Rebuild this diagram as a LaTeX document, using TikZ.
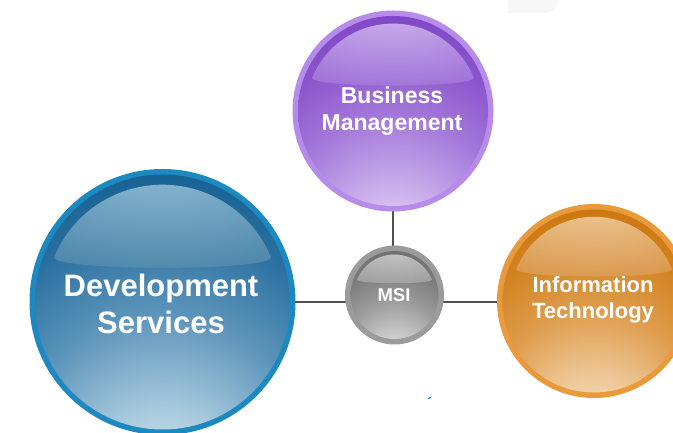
\documentclass[tikz,border=0pt]{standalone}
\usepackage{fontspec}
\setmainfont{Liberation Sans}
% blue
\definecolor{bRing}{HTML}{1C89C1}
\definecolor{bS0}{HTML}{F6FAFC}
\definecolor{bS1}{HTML}{DDECF4}
\definecolor{bS2}{HTML}{A6C9DC}
\definecolor{bS3}{HTML}{5C94BA}
\definecolor{bS4}{HTML}{2A70A0}
\definecolor{bS5}{HTML}{0B5A8B}
\definecolor{bCapTop}{HTML}{BCD8E5}
\definecolor{bCapMid}{HTML}{7FAFCA}
\definecolor{bCapBot}{HTML}{2F6F98}
% purple
\definecolor{pRing}{HTML}{B78BE9}
\definecolor{pS0}{HTML}{FDFBFE}
\definecolor{pS1}{HTML}{EBE0F8}
\definecolor{pS2}{HTML}{CBB0EC}
\definecolor{pS3}{HTML}{A57ADB}
\definecolor{pS4}{HTML}{8A55CC}
\definecolor{pS5}{HTML}{7A40C4}
\definecolor{pCapTop}{HTML}{F8F3FD}
\definecolor{pCapMid}{HTML}{C4A3E9}
\definecolor{pCapBot}{HTML}{8A55CC}
% orange
\definecolor{oRing}{HTML}{E99A3B}
\definecolor{oS0}{HTML}{FFFBF6}
\definecolor{oS1}{HTML}{F8E6D0}
\definecolor{oS2}{HTML}{EEC898}
\definecolor{oS3}{HTML}{DE9C4C}
\definecolor{oS4}{HTML}{D2821F}
\definecolor{oS5}{HTML}{C97209}
\definecolor{oCapTop}{HTML}{FCF0E2}
\definecolor{oCapMid}{HTML}{EABD86}
\definecolor{oCapBot}{HTML}{D0822A}
% gray
\definecolor{gRing}{HTML}{9B9B9B}
\definecolor{gS0}{HTML}{FAFAFA}
\definecolor{gS1}{HTML}{E6E6E6}
\definecolor{gS2}{HTML}{C6C6C6}
\definecolor{gS3}{HTML}{9A9A9A}
\definecolor{gS4}{HTML}{7C7C7C}
\definecolor{gS5}{HTML}{686868}
\definecolor{gCapTop}{HTML}{F0F0F0}
\definecolor{gCapMid}{HTML}{BEBEBE}
\definecolor{gCapBot}{HTML}{8C8C8C}
\definecolor{lineGray}{HTML}{505050}
\newcommand\mkballshade[1]{%
 \pgfdeclareradialshading{body#1}{\pgfpoint{0bp}{-42bp}}{color(0bp)=(#1S0); color(5bp)=(#1S1); color(15bp)=(#1S2); color(28bp)=(#1S3); color(40bp)=(#1S4); color(52bp)=(#1S5); color(100bp)=(#1S5)}%
 \pgfdeclareradialshading{cap#1}{\pgfpoint{0bp}{45bp}}{color(0bp)=(#1CapTop); color(22bp)=(#1CapMid); color(70bp)=(#1CapBot); color(120bp)=(#1CapBot)}%
}
\mkballshade{b}
\mkballshade{p}
\mkballshade{o}
\mkballshade{g}
\newcommand\glassball[3]{%
 \pgfmathsetmacro\ri{#2-5.5}%
 \begin{scope}[shift={(#1.center)}]
 \fill[#3Ring] (0,0) circle[radius=#2];
 \shade[shading=body#3] (0,0) circle[radius=\ri];
 \shade[shading=cap#3] (22.4:{0.92*\ri}) arc[start angle=22.4, end angle=157.6, radius={0.92*\ri}] .. controls ({-0.85*\ri},{0.24*\ri}) and ({0.85*\ri},{0.24*\ri}) .. (22.4:{0.92*\ri}) -- cycle;
 \end{scope}}
\tikzset{
 ballspot/.style={circle, inner sep=0pt, minimum size=#1},
 lbl/.style={text=white, align=center, font=\bfseries},
 connector/.style={draw=lineGray, line width=1.8pt}
}
\begin{document}
\begin{tikzpicture}[x=1pt,y=1pt]
\useasboundingbox (0,0) rectangle (673,433);
\fill[white] (0,0) rectangle (673,433);
\fill[black!3] (508,433) -- (508,420) -- (546,420) arc[start angle=-90,end angle=0,radius=12] -- (558,433) -- cycle;
\node[ballspot=266pt] (ds) at (162.5,131) {};
\node[ballspot=201pt] (bm) at (393,322) {};
\node[ballspot=99pt] (msi) at (394.5,138) {};
\node[ballspot=194pt] (it) at (594,132) {};
\draw[connector] (ds.center) -- (ds.center -| it.center);
\draw[connector] (bm.center) -- (bm.center |- msi.center);
\glassball{ds}{133}{b}
\glassball{bm}{100.5}{p}
\glassball{msi}{49.5}{g}
\glassball{it}{97}{o}
\node[lbl, font=\bfseries\fontsize{31}{36.5}\selectfont] (dstext) at (161,129) {Development\\Services};
\node[lbl, font=\bfseries\fontsize{23}{27}\selectfont] (bmtext) at (392,322) {Business\\Management};
\node[lbl, font=\bfseries\fontsize{22}{26.5}\selectfont] (ittext) at (593,133) {Information\\Technology};
\node[lbl, font=\bfseries\fontsize{18.5}{22}\selectfont] (msitext) at (394,138) {MSI};
\draw[bRing, line width=1.2pt] (428,34.5) -- (431,35.5);
\end{tikzpicture}
\end{document}
